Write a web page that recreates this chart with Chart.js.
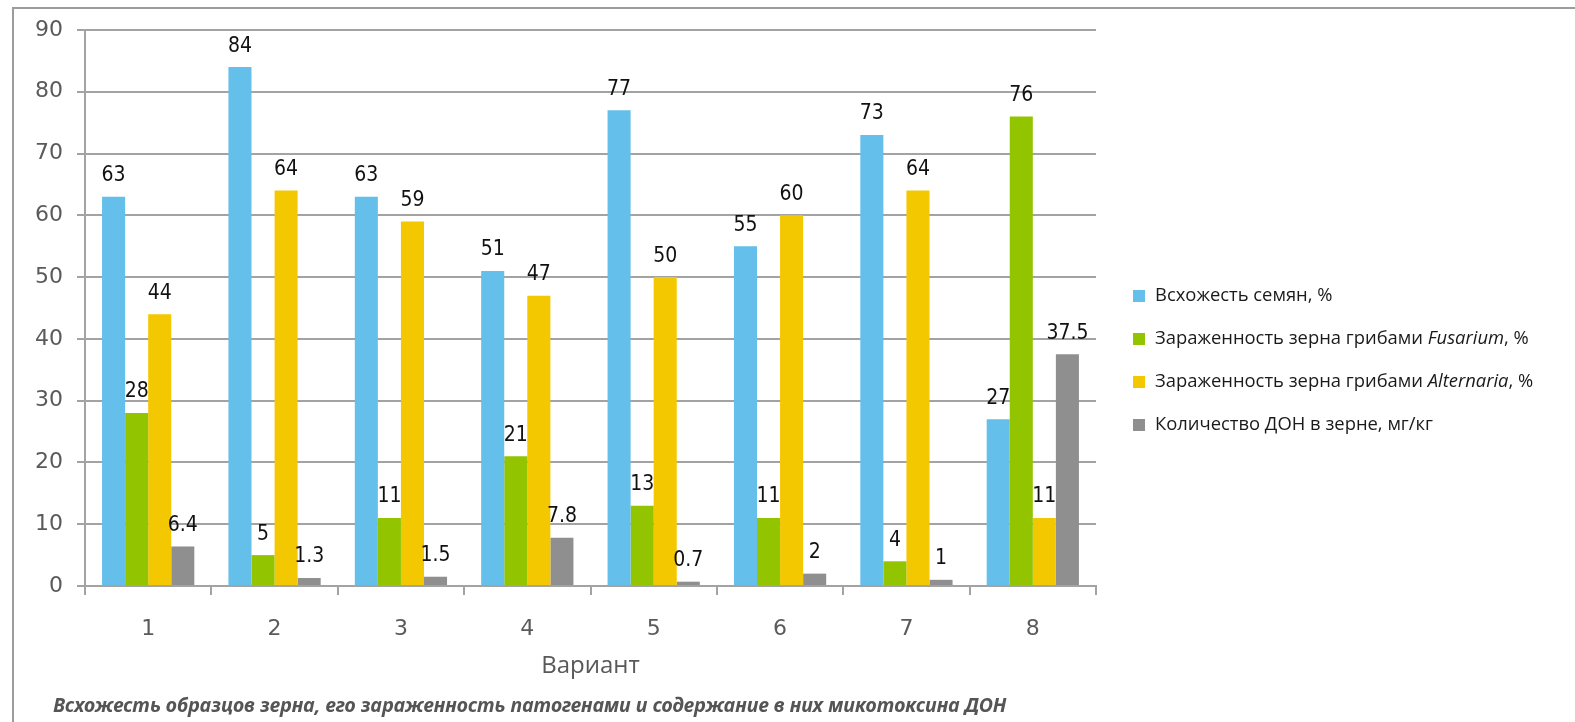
<!DOCTYPE html>
<html lang="ru">
<head>
<meta charset="UTF-8" />
<title>Всхожесть образцов зерна</title>
<script src="https://cdn.jsdelivr.net/npm/chart.js"></script>
<style>
  body { margin: 0; background: #fff; }
  .frame {
    position: absolute; left: 12px; top: 7px; right: 0; bottom: 0;
    border-top: 2px solid #9c9c9c; border-left: 2px solid #9c9c9c;
  }
  .chart-box { position: absolute; left: 0; top: 0; width: 1575px; height: 722px; }
  .caption {
    position: absolute; left: 53px; top: 691px;
    font: italic bold 19.6px "Noto Sans"; color: #555;
    white-space: nowrap;
  }
</style>
</head>
<body>
<div class="frame"></div>
<div class="chart-box"><canvas id="barChart"></canvas></div>
<div class="caption">Всхожесть образцов зерна, его зараженность патогенами и содержание в них микотоксина ДОН</div>

<script>
  // варианты опыта
  const variants = ["1", "2", "3", "4", "5", "6", "7", "8"];

  const germination = [63, 84, 63, 51, 77, 55, 73, 27];   // Всхожесть семян, %
  const fusarium = [28, 5, 11, 21, 13, 11, 4, 76];        // Fusarium, %
  const alternaria = [44, 64, 59, 47, 50, 60, 64, 11];    // Alternaria, %
  const don = [6.4, 1.3, 1.5, 7.8, 0.7, 2, 1, 37.5];       // ДОН, мг/кг

  const yTicks = [0, 10, 20, 30, 40, 50, 60, 70, 80, 90];

  // подписи легенды (курсив для латинских названий)
  const legendItems = [
    { color: "#64bfeb", parts: [["Всхожесть семян, %", false]] },
    { color: "#93c400", parts: [["Зараженность зерна грибами ", false], ["Fusarium", true], [", %", false]] },
    { color: "#f4c800", parts: [["Зараженность зерна грибами ", false], ["Alternaria", true], [", %", false]] },
    { color: "#8f8f8f", parts: [["Количество ДОН в зерне, мг/кг", false]] },
  ];

  const valueLabels = {
    id: "valueLabels",
    afterDatasetsDraw(chart) {
      const ctx = chart.ctx;
      ctx.save();
      ctx.font = '21px "DejaVu Sans Condensed"';
      ctx.fillStyle = "#111";
      ctx.textAlign = "center";
      ctx.textBaseline = "middle";
      chart.data.datasets.forEach((ds, i) => {
        chart.getDatasetMeta(i).data.forEach((bar, j) => {
          ctx.fillText(String(ds.data[j]), bar.x, bar.y - 21);
        });
      });
      ctx.restore();
    },
  };

  const sideLegend = {
    id: "sideLegend",
    afterDraw(chart) {
      const ctx = chart.ctx;
      ctx.save();
      ctx.textBaseline = "middle";
      legendItems.forEach((item, i) => {
        const y = 296 + i * 43;
        ctx.fillStyle = item.color;
        ctx.fillRect(1133, y - 6, 12, 12);
        let x = 1155;
        ctx.fillStyle = "#1a1a1a";
        item.parts.forEach(([txt, italic]) => {
          ctx.font = (italic ? "italic " : "") + '18.4px "Open Sans"';
          ctx.fillText(txt, x, y);
          x += ctx.measureText(txt).width;
        });
      });
      ctx.restore();
    },
  };

  const ctx = document.getElementById("barChart").getContext("2d");
  const chart = new Chart(ctx, {
    type: "bar",
    data: {
      labels: variants,
      datasets: [
        { label: "Всхожесть семян, %", data: germination, backgroundColor: "#64bfeb" },
        { label: "Зараженность зерна грибами Fusarium, %", data: fusarium, backgroundColor: "#93c400" },
        { label: "Зараженность зерна грибами Alternaria, %", data: alternaria, backgroundColor: "#f4c800" },
        { label: "Количество ДОН в зерне, мг/кг", data: don, backgroundColor: "#8f8f8f" },
      ],
    },
    options: {
      responsive: true,
      maintainAspectRatio: false,
      animation: false,
      layout: { padding: { top: 30, right: 479, bottom: 38, left: 0 } },
      datasets: { bar: { categoryPercentage: 0.73, barPercentage: 1 } },
      plugins: {
        legend: { display: false },
        tooltip: { enabled: false },
      },
      scales: {
        x: {
          grid: {
            offset: true,
            drawOnChartArea: false,
            drawTicks: true,
            tickLength: 9,
            color: "#a3a3a3",
            lineWidth: 2,
          },
          border: { color: "#a3a3a3", width: 2 },
          ticks: {
            color: "#5a5a5a",
            font: { family: "DejaVu Sans", size: 22 },
            padding: 21,
          },
          title: {
            display: true,
            text: "Вариант",
            color: "#595959",
            font: { family: "Open Sans", size: 24 },
            padding: { top: 0, bottom: 3 },
          },
          afterFit(scale) { scale.height = 98; },
        },
        y: {
          min: 0,
          max: 90,
          afterBuildTicks(scale) { scale.ticks = yTicks.map(v => ({ value: v })); },
          grid: { color: "#a3a3a3", lineWidth: 2, tickLength: 8 },
          border: { color: "#a3a3a3", width: 2 },
          ticks: {
            color: "#5a5a5a",
            font: { family: "DejaVu Sans", size: 22 },
            padding: 14,
          },
          afterFit(scale) { scale.width = 85; },
        },
      },
    },
    plugins: [valueLabels, sideLegend],
  });
</script>
</body>
</html>
